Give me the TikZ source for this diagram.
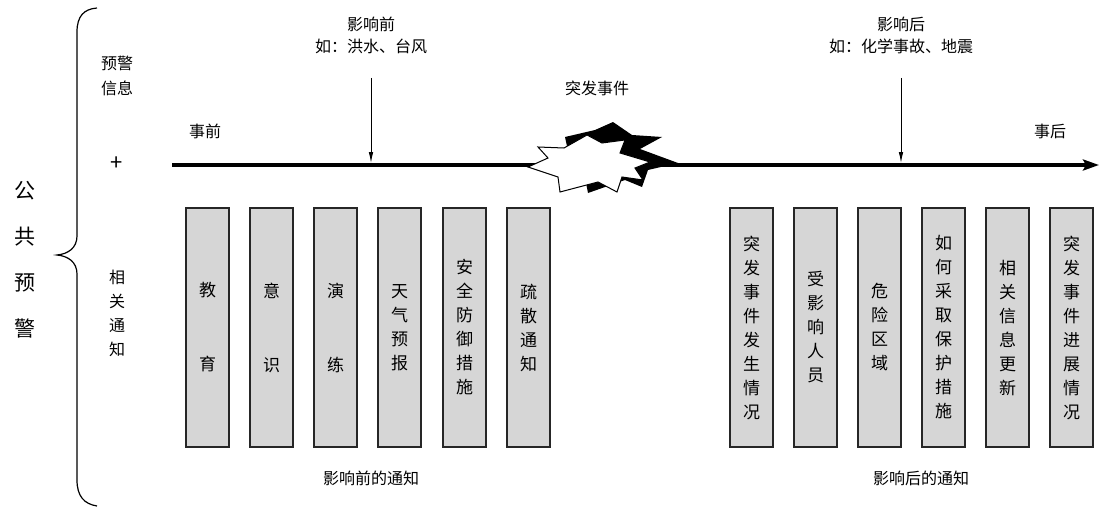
\documentclass[tikz,border=0pt]{standalone}
\usepackage{fontspec}
\setmainfont{Noto Sans CJK SC}
\usetikzlibrary{arrows.meta}
\begin{document}
\begin{tikzpicture}[x=1pt,y=-1pt,
  lbl/.style={font=\fontsize{16}{22}\selectfont, inner sep=0pt, align=center},
  vbox/.style={draw=black!85, line width=1.6pt, fill=black!16, minimum width=43pt, minimum height=239pt, inner sep=0pt, align=center, font=\fontsize{17}{24}\selectfont},
  thinarrow/.style={line width=0.9pt, -{Latex[length=11pt,width=4.5pt]}}]
\useasboundingbox (0,0) rectangle (1101,511);
% brace
\draw[line width=1.2pt] (97,8) .. controls (84,9) and (77,16) .. (77,32) -- (77,236) .. controls (77,248) and (68,254) .. (57,255)
  .. controls (68,256) and (77,262) .. (77,274) -- (77,480) .. controls (77,496) and (84,504) .. (97,506);
% left texts
\node[lbl, font=\fontsize{21}{46}\selectfont] (gg) at (25,260) {公\\共\\预\\警};
\node[lbl, font=\fontsize{16}{25}\selectfont] (yj) at (117,76) {预警\\信息};
\node[lbl, font=\fontsize{22}{24}\selectfont] (plus) at (117,164) {+};
\node[lbl, font=\fontsize{16}{24}\selectfont] (xg) at (117,313) {相\\关\\通\\知};
% timeline
\coordinate (t0) at (172,165);
\coordinate (t1) at (1099,165);
\draw[line width=3.5pt, -{Stealth[length=16pt,width=11pt,inset=3pt]}] (t0) -- (t1);
\node[lbl] (sq) at (205,131) {事前};
\node[lbl] (sh) at (1050,131) {事后};
% before / after labels
\node[lbl] (yq) at (371,35) {影响前\\如：洪水、台风};
\node[lbl] (yh) at (901,35) {影响后\\如：化学事故、地震};
\coordinate (aq) at (371,163);
\coordinate (ah) at (901,163);
\draw[thinarrow] (371,78) -- (aq);
\draw[thinarrow] (901,78) -- (ah);
% burst
\node[lbl] (tf) at (597,88) {突发事件};
\fill[black] (565,137) -- (595,130) -- (613,122) -- (632,135) -- (662,137) -- (640,149) -- (678,163) -- (648,170)
  -- (642,187) -- (625,180) -- (588,193) -- (585,178) -- (570,160) -- cycle;
\draw[fill=white, line width=1pt] (538,147) -- (564,148) -- (587,135) -- (602,143) -- (625,140) -- (620,153)
  -- (650,162) -- (635,168) -- (643,180) -- (622,177) -- (617,192) -- (598,182) -- (560,192) -- (558,177)
  -- (528,167) -- (548,158) -- cycle;
% boxes before
\node[vbox] (b1) at (207.5,327.5) {教\\[50pt]育};
\node[vbox] (b2) at (271.5,327.5) {意\\[50pt]识};
\node[vbox] (b3) at (335.5,327.5) {演\\[50pt]练};
\node[vbox] (b4) at (399.5,327.5) {天\\气\\预\\报};
\node[vbox] (b5) at (464.5,327.5) {安\\全\\防\\御\\措\\施};
\node[vbox] (b6) at (528.5,327.5) {疏\\散\\通\\知};
% boxes after
\node[vbox] (c1) at (751.5,327.5) {突\\发\\事\\件\\发\\生\\情\\况};
\node[vbox] (c2) at (815.5,327.5) {受\\影\\响\\人\\员};
\node[vbox] (c3) at (879.5,327.5) {危\\险\\区\\域};
\node[vbox] (c4) at (943.5,327.5) {如\\何\\采\\取\\保\\护\\措\\施};
\node[vbox] (c5) at (1007.5,327.5) {相\\关\\信\\息\\更\\新};
\node[vbox] (c6) at (1071.5,327.5) {突\\发\\事\\件\\进\\展\\情\\况};
% bottom labels
\node[lbl] (bq) at (371,478) {影响前的通知};
\node[lbl] (bh) at (921,478) {影响后的通知};
\end{tikzpicture}
\end{document}
